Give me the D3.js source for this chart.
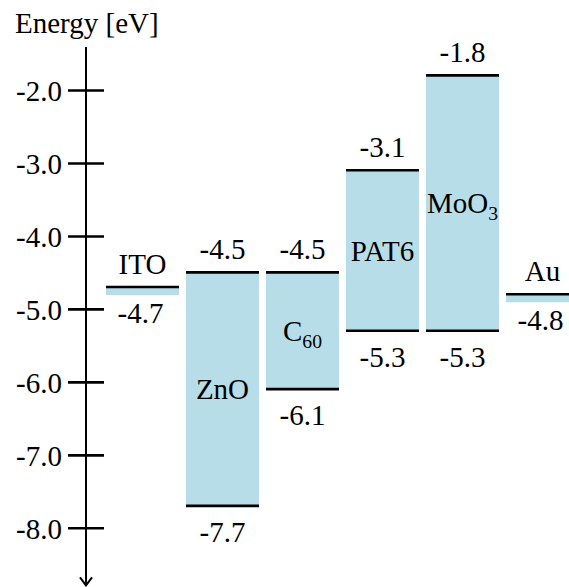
<!DOCTYPE html>
<html>
<head>
<meta charset="utf-8">
<script src="https://cdn.jsdelivr.net/npm/d3@7"></script>
<style>
  html, body { margin: 0; padding: 0; background: #fff; }
  svg { display: block; }
  text { font-family: "Liberation Serif", "Times New Roman", serif; fill: #000; }
</style>
</head>
<body>
<svg id="chart" width="569" height="587"></svg>
<script>
// Layers of the device stack, left to right
const materials = ["ITO", "ZnO", "C60", "PAT6", "MoO3", "Au"];
const nameBase  = ["ITO", "ZnO", "C", "PAT6", "MoO", "Au"];
const nameSub   = ["", "", "60", "", "3", ""];
// Upper level (LUMO / work function) and lower level (HOMO / valence band), eV
const upperLevel = [-4.7, -4.5, -4.5, -3.1, -1.8, -4.8];
const lowerLevel = [null, -7.7, -6.1, -5.3, -5.3, null];
// Energy axis ticks
const tickValues = [-2.0, -3.0, -4.0, -5.0, -6.0, -7.0, -8.0];
const axisTitle = "Energy [eV]";

const svg = d3.select("#chart");
const fs = 29;
const barColor = "#b7dee8";

const y = d3.scaleLinear().domain([-2, -8]).range([90, 527.8]);
const x = d3.scaleBand().domain(materials).range([106, 579]).paddingInner(7 / 80).paddingOuter(0);
const axisX = 86;

const fmt = v => v.toFixed(1);

const rows = materials.map((m, i) => ({
  key: m, base: nameBase[i], sub: nameSub[i],
  top: upperLevel[i], bottom: lowerLevel[i],
  metal: lowerLevel[i] == null
}));

// Clip everything to the drawing area
svg.append("defs").append("clipPath").attr("id", "area")
  .append("rect").attr("width", 569).attr("height", 587);
const plot = svg.append("g").attr("clip-path", "url(#area)");

// Band between levels (semiconductors) or thin strip under a metal's work function
plot.selectAll("rect.band").data(rows).join("rect")
  .attr("class", "band")
  .attr("x", d => x(d.key))
  .attr("width", x.bandwidth())
  .attr("y", d => y(d.top))
  .attr("height", d => d.metal ? 8 : y(d.bottom) - y(d.top))
  .attr("fill", barColor);

// Level lines
const levels = [];
rows.forEach(d => {
  levels.push({ key: d.key, v: d.top });
  if (!d.metal) levels.push({ key: d.key, v: d.bottom });
});
plot.selectAll("line.level").data(levels).join("line")
  .attr("class", "level")
  .attr("x1", d => x(d.key))
  .attr("x2", d => x(d.key) + x.bandwidth())
  .attr("y1", d => y(d.v)).attr("y2", d => y(d.v))
  .attr("stroke", "#000").attr("stroke-width", 2.6);

// Value labels: above upper levels, below lower levels and metal strips
const cx = k => x(k) + x.bandwidth() / 2;
const valueLabels = [];
rows.forEach(d => {
  if (d.metal) {
    valueLabels.push({ key: d.key, v: d.top, side: "below", shift: -2 });
  } else {
    valueLabels.push({ key: d.key, v: d.top, side: "above", shift: 0 });
    valueLabels.push({ key: d.key, v: d.bottom, side: "below", shift: 0 });
  }
});
plot.selectAll("text.value").data(valueLabels).join("text")
  .attr("class", "value")
  .attr("x", d => cx(d.key) + d.shift)
  .attr("y", d => d.side === "above" ? y(d.v) - 13 : y(d.v) + 36)
  .attr("text-anchor", "middle")
  .attr("font-size", fs)
  .text(d => fmt(d.v));

// Material names: metals sit above their line, the rest centred in their band
const nameText = plot.selectAll("text.name").data(rows).join("text")
  .attr("class", "name")
  .attr("x", d => cx(d.key))
  .attr("y", d => d.metal ? y(d.top) - 13 : (y(d.top) + y(d.bottom)) / 2 + 10)
  .attr("text-anchor", "middle")
  .attr("font-size", fs);
nameText.append("tspan").text(d => d.base);
nameText.filter(d => d.sub).append("tspan")
  .attr("font-size", fs * 0.68)
  .attr("dy", 7)
  .text(d => d.sub);

// Energy axis
const axis = d3.axisLeft(y).tickValues(tickValues).tickSize(18).tickPadding(6).tickFormat(fmt);
const ag = svg.append("g").attr("transform", `translate(${axisX},0)`).call(axis);
ag.select(".domain").remove();
ag.selectAll(".tick line").attr("x1", 18).attr("stroke", "#000").attr("stroke-width", 2.6);
ag.selectAll(".tick text")
  .attr("font-family", "Liberation Serif, Times New Roman, serif")
  .attr("font-size", fs).attr("fill", "#000")
  .attr("dy", "0.36em");

const yTop = y(-1.41), yEnd = y(-8.79);
ag.append("line").attr("x1", 0).attr("x2", 0).attr("y1", yTop).attr("y2", yEnd)
  .attr("stroke", "#000").attr("stroke-width", 2);
ag.append("path")
  .attr("d", `M-6,${yEnd - 8}L0,${yEnd}L6,${yEnd - 8}`)
  .attr("fill", "none").attr("stroke", "#000").attr("stroke-width", 2);

svg.append("text").attr("x", 15).attr("y", 33).attr("font-size", fs).text(axisTitle);
</script>
</body>
</html>
